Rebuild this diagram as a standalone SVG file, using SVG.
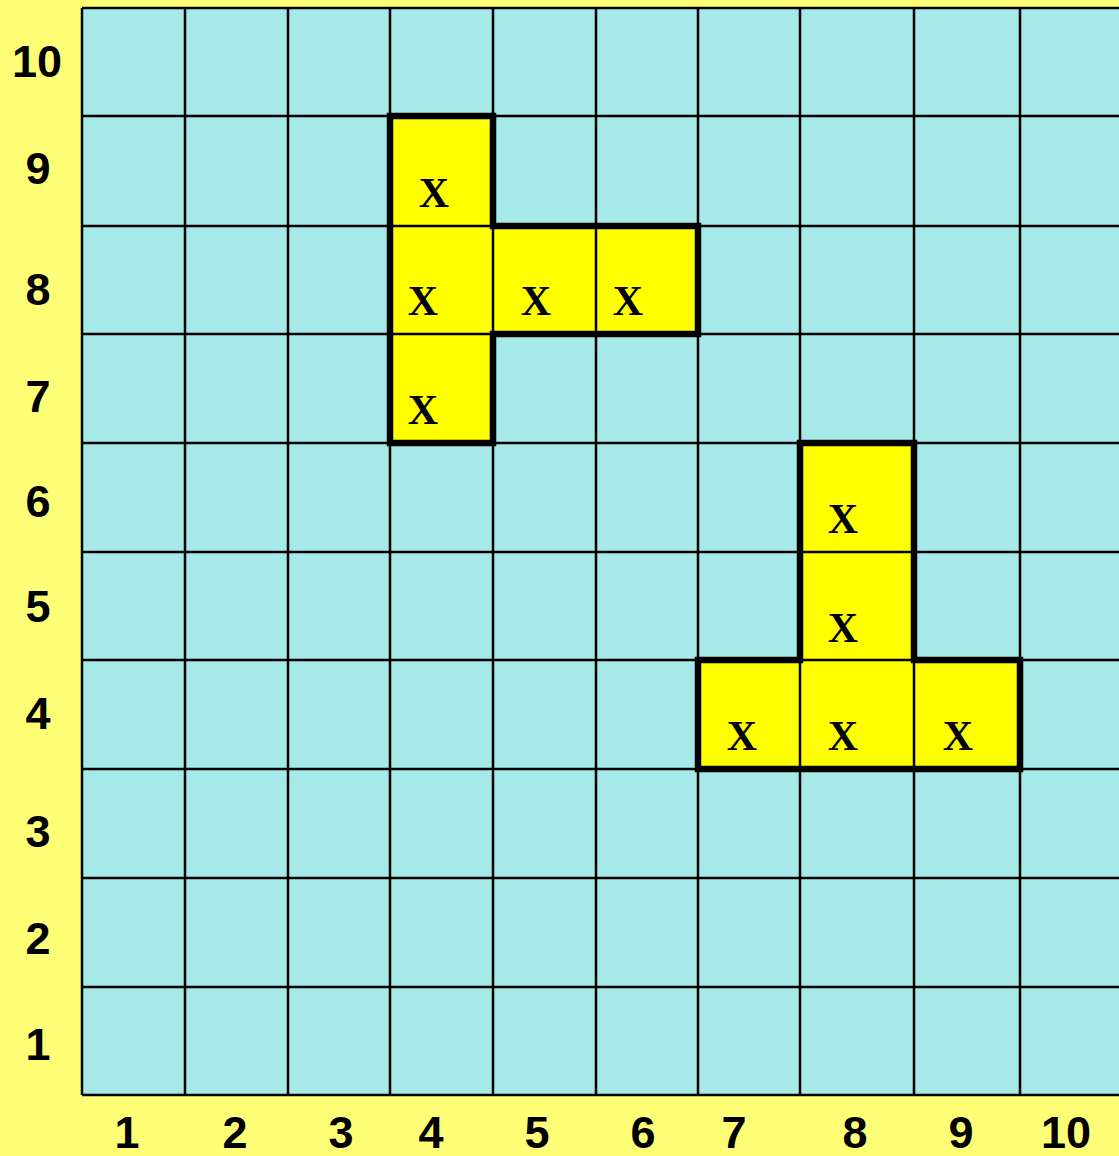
<svg xmlns="http://www.w3.org/2000/svg" width="1119" height="1156" viewBox="0 0 1119 1156">
<style>
.grid line{stroke:#000;stroke-width:2.5}
.shape{fill:#FFFF00}
.outline{fill:none;stroke:#000;stroke-width:6.5;stroke-linejoin:miter}
.ax{font-family:"Liberation Sans",Arial,sans-serif;font-weight:bold;font-size:45px;fill:#000;text-anchor:middle}
.x{font-family:"Liberation Serif","Times New Roman",serif;font-weight:bold;font-size:42px;fill:#000;text-anchor:middle}
</style>
<rect x="0" y="0" width="1119" height="1156" fill="#FFFF77"/>
<rect x="82" y="8" width="1037" height="1087" fill="#A6E9E9"/>
<g id="shape1">
<path class="shape" d="M390,116 H493 V226 H698 V334 H493 V443 H390 Z"/>
</g>
<g id="shape2">
<path class="shape" d="M800,443 H914 V660 H1020 V769 H698 V660 H800 Z"/>
</g>
<g class="grid" id="grid">
<line x1="82" y1="8" x2="82" y2="1095"/>
<line x1="185" y1="8" x2="185" y2="1095"/>
<line x1="288" y1="8" x2="288" y2="1095"/>
<line x1="390" y1="8" x2="390" y2="1095"/>
<line x1="493" y1="8" x2="493" y2="1095"/>
<line x1="596" y1="8" x2="596" y2="1095"/>
<line x1="698" y1="8" x2="698" y2="1095"/>
<line x1="800" y1="8" x2="800" y2="1095"/>
<line x1="914" y1="8" x2="914" y2="1095"/>
<line x1="1020" y1="8" x2="1020" y2="1095"/>
<line x1="82" y1="8" x2="1119" y2="8"/>
<line x1="82" y1="116" x2="1119" y2="116"/>
<line x1="82" y1="226" x2="1119" y2="226"/>
<line x1="82" y1="334" x2="1119" y2="334"/>
<line x1="82" y1="443" x2="1119" y2="443"/>
<line x1="82" y1="552" x2="1119" y2="552"/>
<line x1="82" y1="660" x2="1119" y2="660"/>
<line x1="82" y1="769" x2="1119" y2="769"/>
<line x1="82" y1="878" x2="1119" y2="878"/>
<line x1="82" y1="987" x2="1119" y2="987"/>
<line x1="82" y1="1095" x2="1119" y2="1095"/>
</g>
<g id="shape1-outline">
<path class="outline" d="M390,116 H493 V226 H698 V334 H493 V443 H390 Z"/>
<text class="x" x="434" y="207">X</text>
<text class="x" x="423" y="315">X</text>
<text class="x" x="536" y="315">X</text>
<text class="x" x="628" y="315">X</text>
<text class="x" x="423" y="424">X</text>
</g>
<g id="shape2-outline">
<path class="outline" d="M800,443 H914 V660 H1020 V769 H698 V660 H800 Z"/>
<text class="x" x="843" y="533">X</text>
<text class="x" x="843" y="642">X</text>
<text class="x" x="742" y="750">X</text>
<text class="x" x="843" y="750">X</text>
<text class="x" x="958" y="750">X</text>
</g>
<g id="row-labels">
<text class="ax" x="37" y="77">10</text>
<text class="ax" x="38" y="184">9</text>
<text class="ax" x="38" y="305">8</text>
<text class="ax" x="38" y="412">7</text>
<text class="ax" x="38" y="517">6</text>
<text class="ax" x="38" y="622">5</text>
<text class="ax" x="38" y="729">4</text>
<text class="ax" x="38" y="847">3</text>
<text class="ax" x="38" y="954">2</text>
<text class="ax" x="38" y="1060">1</text>
</g>
<g id="col-labels">
<text class="ax" x="127" y="1148">1</text>
<text class="ax" x="235" y="1148">2</text>
<text class="ax" x="341" y="1148">3</text>
<text class="ax" x="431" y="1148">4</text>
<text class="ax" x="537" y="1148">5</text>
<text class="ax" x="643" y="1148">6</text>
<text class="ax" x="734" y="1148">7</text>
<text class="ax" x="855" y="1148">8</text>
<text class="ax" x="961" y="1148">9</text>
<text class="ax" x="1066" y="1148">10</text>
</g>
</svg>
